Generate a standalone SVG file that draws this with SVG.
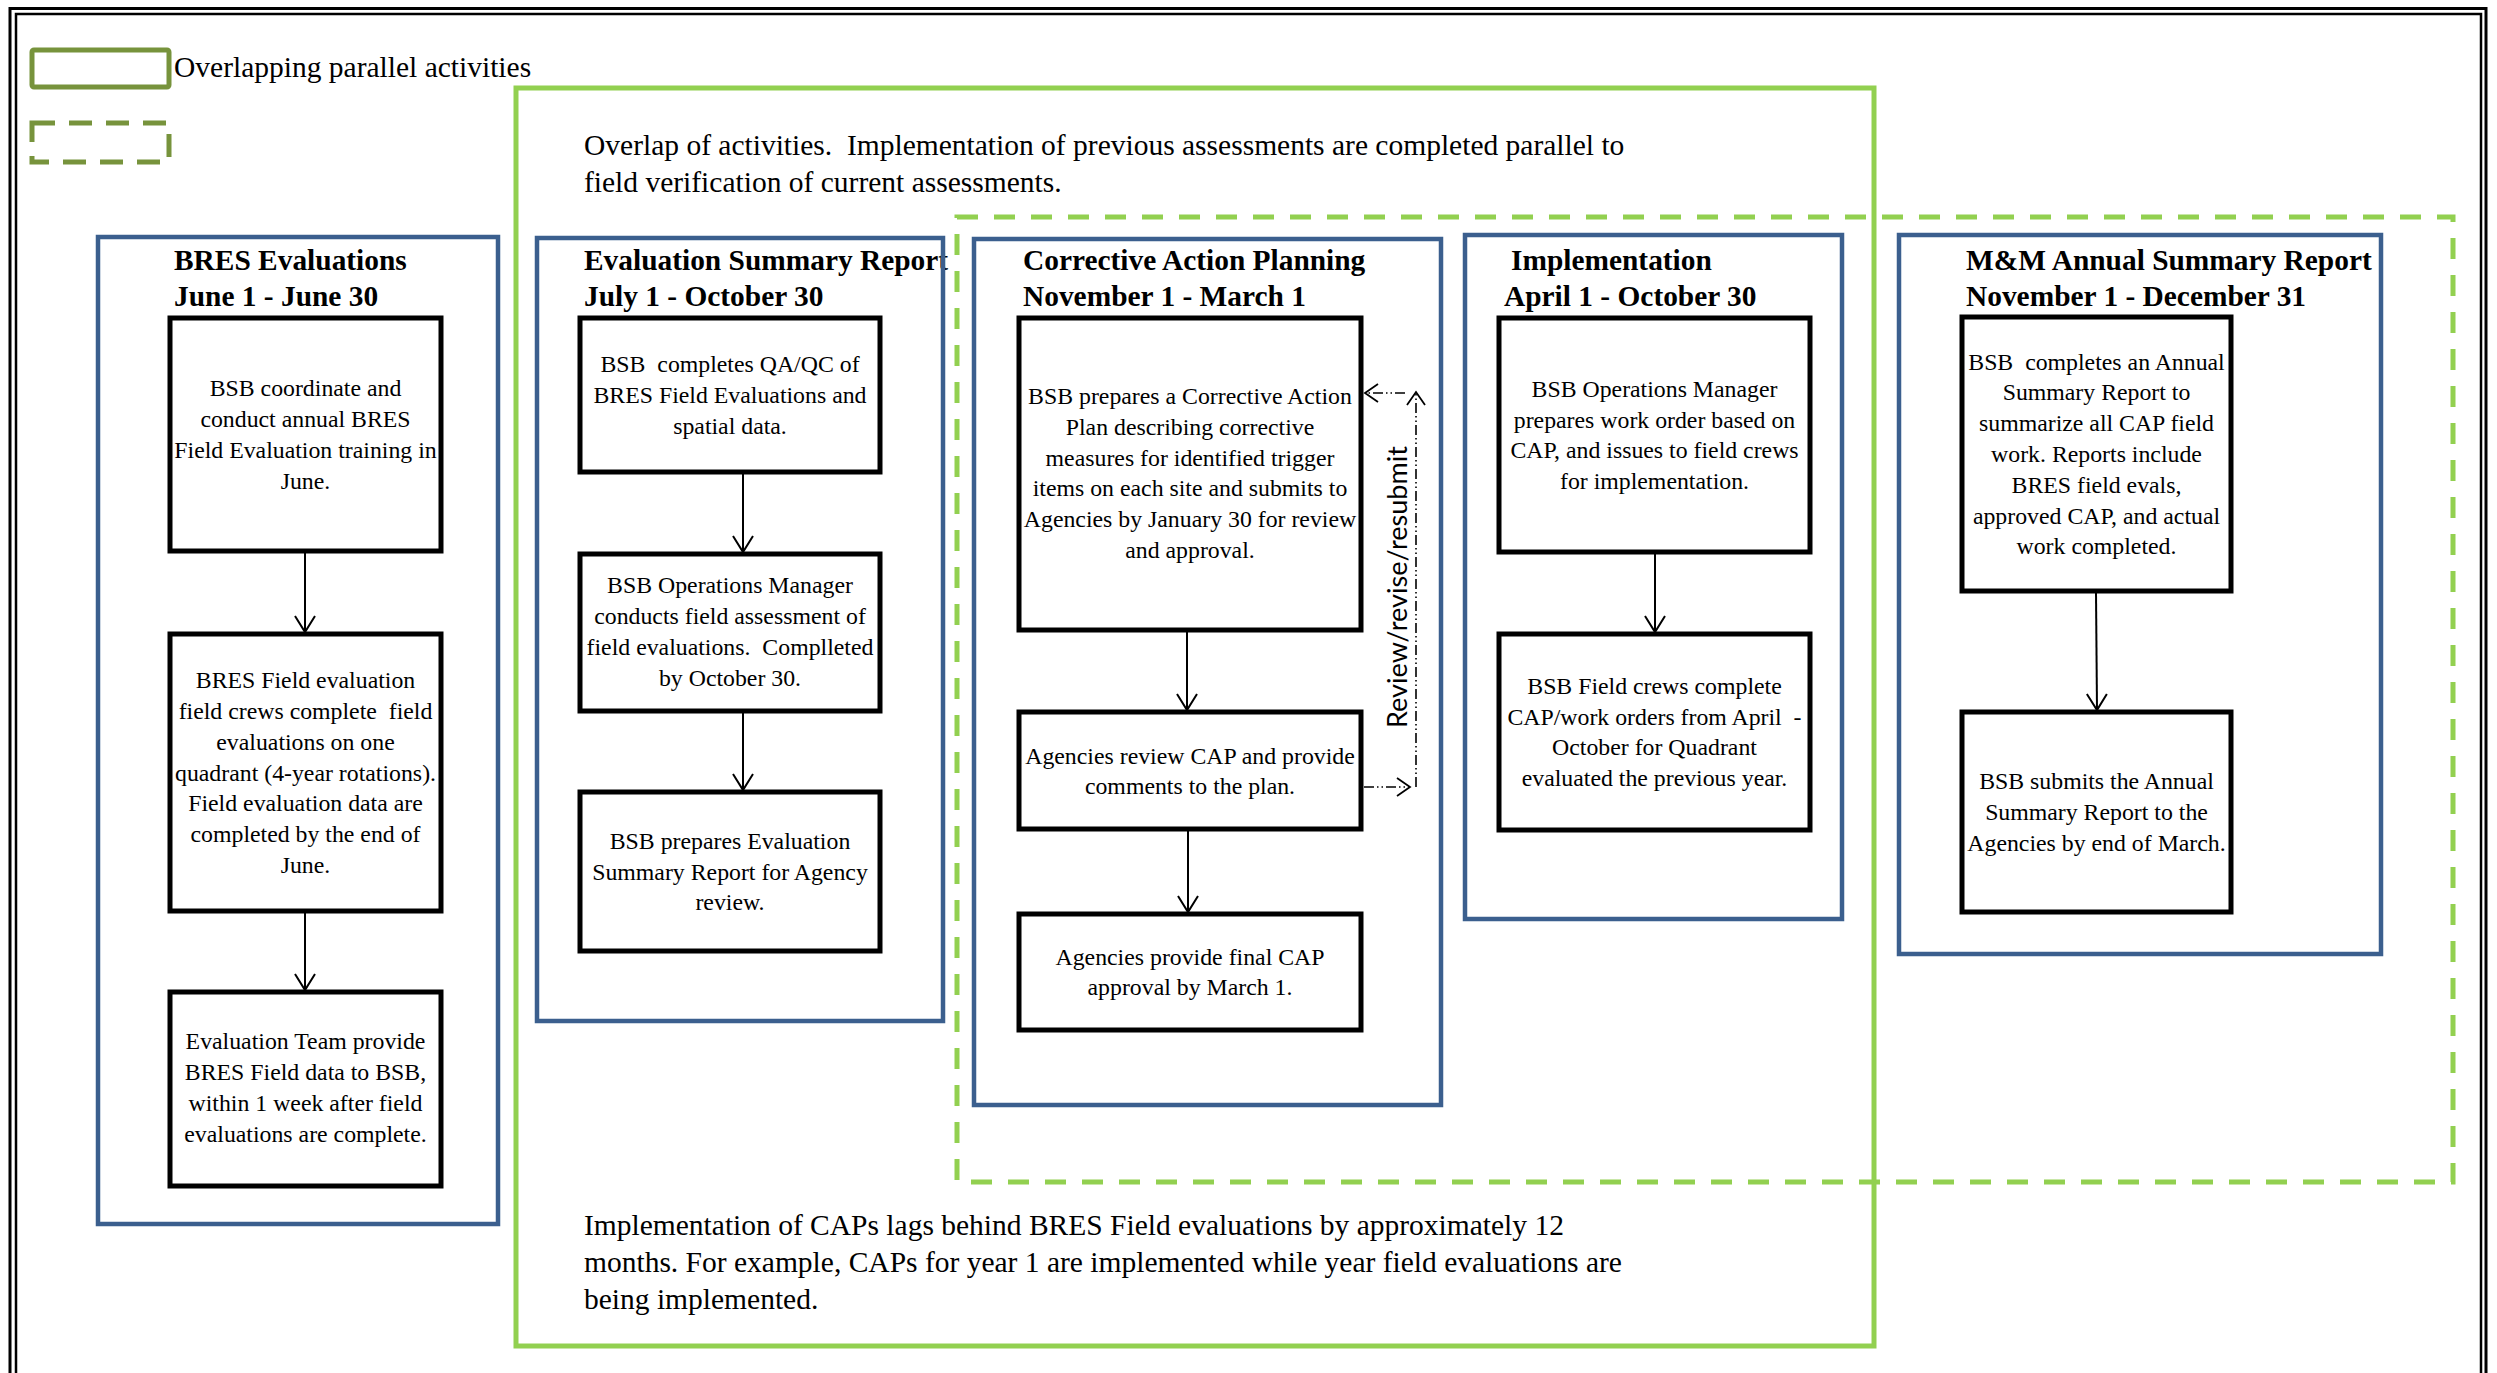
<svg xmlns="http://www.w3.org/2000/svg" width="2497" height="1373" viewBox="0 0 2497 1373">
<style>
.hd{font-family:"Liberation Serif","Times New Roman",serif;font-weight:bold;font-size:29.4px;fill:#000}
.bt{font-family:"Liberation Serif","Times New Roman",serif;font-size:23.8px;fill:#000;text-anchor:middle}
.nt{font-family:"Liberation Serif","Times New Roman",serif;font-size:29.5px;fill:#000}
.col{fill:none;stroke:#3B5F8E;stroke-width:4.5}
.box{fill:#fff;stroke:#000;stroke-width:5}
.arr{fill:none;stroke:#000;stroke-width:2;marker-end:url(#ah)}
.rev{fill:none;stroke:#000;stroke-width:1.6;stroke-dasharray:10 3 1.5 3 1.5 3;marker-end:url(#ah2)}
.gs{fill:none;stroke:#92D050;stroke-width:5}
.gd{fill:none;stroke:#92D050;stroke-width:5;stroke-dasharray:21 16}
</style>
<defs>
<marker id="ah" markerUnits="userSpaceOnUse" viewBox="-20 -12 24 24" markerWidth="24" markerHeight="24" refX="0" refY="0" orient="auto" overflow="visible">
<path d="M-16,-10 L0,0 L-16,10" fill="none" stroke="#000" stroke-width="2"/>
</marker>
<marker id="ah2" markerUnits="userSpaceOnUse" viewBox="-20 -12 24 24" markerWidth="24" markerHeight="24" refX="0" refY="0" orient="auto" overflow="visible">
<path d="M-13,-9 L0,0 L-13,9" fill="none" stroke="#000" stroke-width="1.8"/>
</marker>
</defs>
<rect width="2497" height="1373" fill="#fff"/>
<g id="border">
<rect x="10" y="8.5" width="2476" height="1420" fill="none" stroke="#000" stroke-width="3"/>
<rect x="16" y="14" width="2465" height="1410" fill="none" stroke="#000" stroke-width="2.5"/>
</g>
<g id="legend">
<rect x="32" y="50" width="137" height="37" rx="2" fill="none" stroke="#77933C" stroke-width="5"/>
<text class="nt" x="174" y="77">Overlapping parallel activities</text>
<rect x="32" y="123" width="137" height="39" fill="none" stroke="#77933C" stroke-width="5" stroke-dasharray="23 14"/>
</g>
<g id="overlap-solid">
<rect class="gs" x="516" y="88" width="1358" height="1258"/>
<text class="nt" xml:space="preserve"><tspan x="584" y="155">Overlap of activities.  Implementation of previous assessments are completed parallel to</tspan><tspan x="584" y="192">field verification of current assessments.</tspan></text>
<text class="nt"><tspan x="584" y="1235">Implementation of CAPs lags behind BRES Field evaluations by approximately 12</tspan><tspan x="584" y="1272">months. For example, CAPs for year 1 are implemented while year field evaluations are</tspan><tspan x="584" y="1309">being implemented.</tspan></text>
</g>
<g id="overlap-dashed">
<rect class="gd" x="957" y="217" width="1496" height="965"/>
</g>
<g id="col-bres">
<text class="hd"><tspan x="174" y="270">BRES Evaluations</tspan><tspan x="174" y="306">June 1 - June 30</tspan></text>
<rect class="col" x="98" y="237" width="400" height="987"/>
</g>
<g id="n1a"><rect class="box" x="170" y="318" width="271" height="233"/>
<text class="bt"><tspan x="305.5" y="396.3">BSB coordinate and</tspan><tspan x="305.5" y="427.1">conduct annual BRES</tspan><tspan x="305.5" y="457.9">Field Evaluation training in</tspan><tspan x="305.5" y="488.7">June.</tspan></text></g>
<g id="n1b"><rect class="box" x="170" y="634" width="271" height="277"/>
<text class="bt" xml:space="preserve"><tspan x="305.5" y="688.1">BRES Field evaluation</tspan><tspan x="305.5" y="718.9">field crews complete  field</tspan><tspan x="305.5" y="749.7">evaluations on one</tspan><tspan x="305.5" y="780.5">quadrant (4-year rotations).</tspan><tspan x="305.5" y="811.3">Field evaluation data are</tspan><tspan x="305.5" y="842.1">completed by the end of</tspan><tspan x="305.5" y="872.9">June.</tspan></text></g>
<g id="n1c"><rect class="box" x="170" y="992" width="271" height="194"/>
<text class="bt"><tspan x="305.5" y="1049">Evaluation Team provide</tspan><tspan x="305.5" y="1080">BRES Field data to BSB,</tspan><tspan x="305.5" y="1111">within 1 week after field</tspan><tspan x="305.5" y="1142">evaluations are complete.</tspan></text></g>

<g id="col-esr">
<text class="hd"><tspan x="584" y="270">Evaluation Summary Report</tspan><tspan x="584" y="306">July 1 - October 30</tspan></text>
<rect class="col" x="537" y="238" width="406" height="783"/>
</g>
<g id="n2a"><rect class="box" x="580" y="318" width="300" height="154"/>
<text class="bt" xml:space="preserve"><tspan x="730" y="372.2">BSB  completes QA/QC of</tspan><tspan x="730" y="403">BRES Field Evaluations and</tspan><tspan x="730" y="433.8">spatial data.</tspan></text></g>
<g id="n2b"><rect class="box" x="580" y="554" width="300" height="157"/>
<text class="bt" xml:space="preserve"><tspan x="730" y="593">BSB Operations Manager</tspan><tspan x="730" y="624">conducts field assessment of</tspan><tspan x="730" y="655">field evaluations.  Complleted</tspan><tspan x="730" y="686">by October 30.</tspan></text></g>
<g id="n2c"><rect class="box" x="580" y="792" width="300" height="159"/>
<text class="bt"><tspan x="730" y="848.7">BSB prepares Evaluation</tspan><tspan x="730" y="879.5">Summary Report for Agency</tspan><tspan x="730" y="910.3">review.</tspan></text></g>

<g id="col-cap">
<text class="hd"><tspan x="1023" y="270">Corrective Action Planning</tspan><tspan x="1023" y="306">November 1 - March 1</tspan></text>
<rect class="col" x="974" y="239" width="467" height="866"/>
</g>
<g id="n3a"><rect class="box" x="1019" y="318" width="342" height="312"/>
<text class="bt"><tspan x="1190" y="404">BSB prepares a Corrective Action</tspan><tspan x="1190" y="434.8">Plan describing corrective</tspan><tspan x="1190" y="465.6">measures for identified trigger</tspan><tspan x="1190" y="496.4">items on each site and submits to</tspan><tspan x="1190" y="527.2">Agencies by January 30 for review</tspan><tspan x="1190" y="558">and approval.</tspan></text></g>
<g id="n3b"><rect class="box" x="1019" y="712" width="342" height="117"/>
<text class="bt"><tspan x="1190" y="763.5">Agencies review CAP and provide</tspan><tspan x="1190" y="794.3">comments to the plan.</tspan></text></g>
<g id="n3c"><rect class="box" x="1019" y="914" width="342" height="116"/>
<text class="bt"><tspan x="1190" y="964.6">Agencies provide final CAP</tspan><tspan x="1190" y="995.4">approval by March 1.</tspan></text></g>

<g id="col-impl">
<text class="hd"><tspan x="1511" y="270">Implementation</tspan><tspan x="1504" y="306">April 1 - October 30</tspan></text>
<rect class="col" x="1465" y="235" width="377" height="684"/>
</g>
<g id="n4a"><rect class="box" x="1499" y="318" width="311" height="234"/>
<text class="bt"><tspan x="1654.5" y="396.8">BSB Operations Manager</tspan><tspan x="1654.5" y="427.6">prepares work order based on</tspan><tspan x="1654.5" y="458.4">CAP, and issues to field crews</tspan><tspan x="1654.5" y="489.2">for implementation.</tspan></text></g>
<g id="n4b"><rect class="box" x="1499" y="634" width="311" height="196"/>
<text class="bt" xml:space="preserve"><tspan x="1654.5" y="693.8">BSB Field crews complete</tspan><tspan x="1654.5" y="724.6">CAP/work orders from April  -</tspan><tspan x="1654.5" y="755.4">October for Quadrant</tspan><tspan x="1654.5" y="786.2">evaluated the previous year.</tspan></text></g>

<g id="col-mm">
<text class="hd"><tspan x="1966" y="270">M&amp;M Annual Summary Report</tspan><tspan x="1966" y="306">November 1 - December 31</tspan></text>
<rect class="col" x="1899" y="235" width="482" height="719"/>
</g>
<g id="n5a"><rect class="box" x="1962" y="317" width="269" height="274"/>
<text class="bt" xml:space="preserve"><tspan x="2096.5" y="369.6">BSB  completes an Annual</tspan><tspan x="2096.5" y="400.4">Summary Report to</tspan><tspan x="2096.5" y="431.2">summarize all CAP field</tspan><tspan x="2096.5" y="462">work. Reports include</tspan><tspan x="2096.5" y="492.8">BRES field evals,</tspan><tspan x="2096.5" y="523.6">approved CAP, and actual</tspan><tspan x="2096.5" y="554.4">work completed.</tspan></text></g>
<g id="n5b"><rect class="box" x="1962" y="712" width="269" height="200"/>
<text class="bt"><tspan x="2096.5" y="789.2">BSB submits the Annual</tspan><tspan x="2096.5" y="820">Summary Report to the</tspan><tspan x="2096.5" y="850.8">Agencies by end of March.</tspan></text></g>

<g id="connectors">
<line class="arr" x1="305" y1="553" x2="305" y2="632"/>
<line class="arr" x1="305" y1="913" x2="305" y2="990"/>
<line class="arr" x1="743" y1="474" x2="743" y2="552"/>
<line class="arr" x1="743" y1="713" x2="743" y2="790"/>
<line class="arr" x1="1187" y1="632" x2="1187" y2="710"/>
<line class="arr" x1="1188" y1="831" x2="1188" y2="912"/>
<line class="arr" x1="1655" y1="554" x2="1655" y2="632"/>
<line class="arr" x1="2096" y1="593" x2="2097" y2="710"/>
<line class="rev" x1="1364" y1="787" x2="1410" y2="787"/>
<line class="rev" x1="1416" y1="787" x2="1416" y2="392"/>
<line class="rev" x1="1405" y1="393" x2="1365" y2="393"/>
<text x="1407" y="587" transform="rotate(-90 1407 587)" text-anchor="middle" font-family="Lato, 'Open Sans', sans-serif" font-size="27" textLength="282" lengthAdjust="spacingAndGlyphs">Review/revise/resubmit</text>
</g>
</svg>
